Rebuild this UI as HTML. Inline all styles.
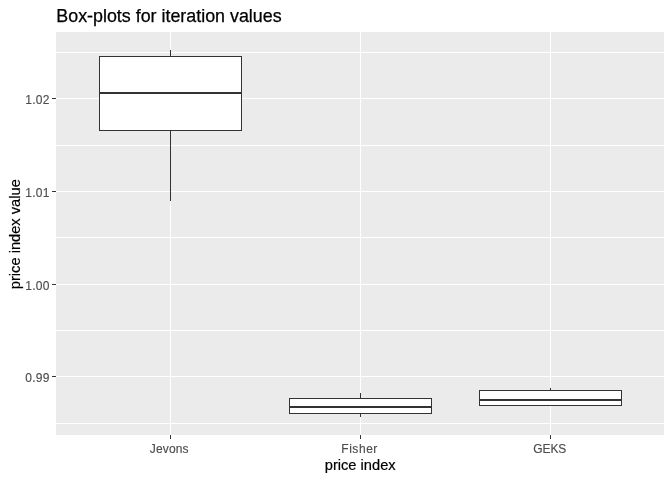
<!DOCTYPE html>
<html><head><meta charset="utf-8"><title>Box-plots for iteration values</title>
<style>
html,body{margin:0;padding:0;background:#fff;}
svg{display:block;}
text{font-family:"Liberation Sans",Arial,sans-serif;}
.t{fill:#000;font-size:17.86px;stroke:#000;stroke-width:0.25px;}
.a{fill:#4d4d4d;font-size:12px;stroke:#4d4d4d;stroke-width:0.15px;}
.l{fill:#000;font-size:14.67px;stroke:#000;stroke-width:0.2px;}
.g{fill:#fff;}
.k{fill:#333;}
.w{fill:#fff;}
</style></head><body>
<svg width="672" height="480" viewBox="0 0 672 480" shape-rendering="crispEdges">
<rect width="672" height="480" fill="#fff"/>
<rect x="56" y="32" width="608" height="403" fill="#ebebeb"/>
<g class="g">
<rect x="56" y="52" width="608" height="1"/>
<rect x="56" y="145" width="608" height="1"/>
<rect x="56" y="237" width="608" height="1"/>
<rect x="56" y="330" width="608" height="1"/>
<rect x="56" y="423" width="608" height="1"/>
<rect x="56" y="98" width="608" height="1"/>
<rect x="56" y="191" width="608" height="1"/>
<rect x="56" y="284" width="608" height="1"/>
<rect x="56" y="376" width="608" height="1"/>
<rect x="170" y="32" width="1" height="403"/>
<rect x="360" y="32" width="1" height="403"/>
<rect x="550" y="32" width="1" height="403"/>
</g>
<g class="k">
<rect x="170" y="50" width="1" height="6"/>
<rect x="170" y="131" width="1" height="70"/>
<rect x="99" y="56" width="143" height="75"/>
</g>
<rect class="w" x="100" y="57" width="141" height="73"/>
<rect class="k" x="99" y="92" width="143" height="2"/>
<g class="k">
<rect x="360" y="393" width="1" height="5"/>
<rect x="360" y="414" width="1" height="3"/>
<rect x="289" y="398" width="143" height="16"/>
</g>
<rect class="w" x="290" y="399" width="141" height="14"/>
<rect class="k" x="289" y="406" width="143" height="2"/>
<g class="k">
<rect x="550" y="388" width="1" height="2"/>
<rect x="479" y="390" width="143" height="16"/>
</g>
<rect class="w" x="480" y="391" width="141" height="14"/>
<rect class="k" x="479" y="399" width="143" height="2"/>
<g class="k">
<rect x="52" y="98" width="4" height="1"/>
<rect x="52" y="191" width="4" height="1"/>
<rect x="52" y="284" width="4" height="1"/>
<rect x="52" y="376" width="4" height="1"/>
<rect x="170" y="435" width="1" height="4"/>
<rect x="360" y="435" width="1" height="4"/>
<rect x="550" y="435" width="1" height="4"/>
</g>
<g class="a" text-anchor="end">
<text x="49.5" y="103.9" letter-spacing="0.2">1.02</text>
<text x="49.5" y="196.9" letter-spacing="0.2">1.01</text>
<text x="49.5" y="289.9" letter-spacing="0.2">1.00</text>
<text x="49.5" y="381.9" letter-spacing="0.2">0.99</text>
</g>
<g class="a" text-anchor="middle">
<text x="169.3" y="453" letter-spacing="0.15">Jevons</text>
<text x="359.6" y="453" letter-spacing="0.55">Fisher</text>
<text x="549.8" y="453" letter-spacing="-0.1">GEKS</text>
</g>
<text class="l" text-anchor="middle" x="360.2" y="470">price index</text>
<text class="l" text-anchor="middle" transform="translate(19.9,234.2) rotate(-90)">price index value</text>
<text class="t" x="56.3" y="21.8">Box-plots for iteration values</text>
</svg>
</body></html>
